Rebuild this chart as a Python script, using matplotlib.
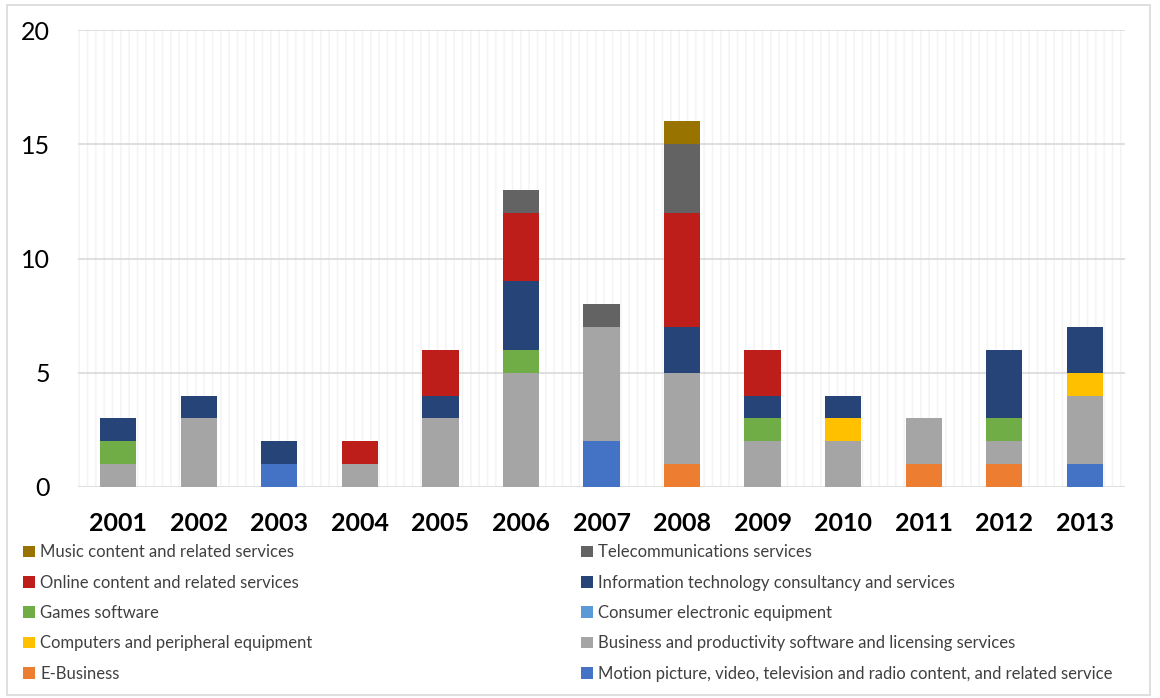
import numpy as np
import matplotlib.pyplot as plt
from matplotlib.patches import Rectangle, Patch

plt.rcParams['font.family'] = ['Lato', 'DejaVu Sans']
plt.rcParams['hatch.linewidth'] = 1.0

years = ['2001', '2002', '2003', '2004', '2005', '2006', '2007',
         '2008', '2009', '2010', '2011', '2012', '2013']

# series, bottom to top
motion    = [0, 0, 1, 0, 0, 0, 2, 0, 0, 0, 0, 0, 1]
ebusiness = [0, 0, 0, 0, 0, 0, 0, 1, 0, 0, 1, 1, 0]
business  = [1, 3, 0, 1, 3, 5, 5, 4, 2, 2, 2, 1, 3]
computers = [0, 0, 0, 0, 0, 0, 0, 0, 0, 1, 0, 0, 1]
consumer  = [0, 0, 0, 0, 0, 0, 0, 0, 0, 0, 0, 0, 0]
games     = [1, 0, 0, 0, 0, 1, 0, 0, 1, 0, 0, 1, 0]
it_cons   = [1, 1, 1, 0, 1, 3, 0, 2, 1, 1, 0, 3, 2]
online    = [0, 0, 0, 1, 2, 3, 0, 5, 2, 0, 0, 0, 0]
telecom   = [0, 0, 0, 0, 0, 1, 1, 3, 0, 0, 0, 0, 0]
music     = [0, 0, 0, 0, 0, 0, 0, 1, 0, 0, 0, 0, 0]

series = [
    ('Motion picture, video, television and radio content, and related service', motion, '#4472C4'),
    ('E-Business', ebusiness, '#ED7D31'),
    ('Business and productivity software and licensing services', business, '#A5A5A5'),
    ('Computers and peripheral equipment', computers, '#FFC000'),
    ('Consumer electronic equipment', consumer, '#5B9BD5'),
    ('Games software', games, '#70AD47'),
    ('Information technology consultancy and services', it_cons, '#264478'),
    ('Online content and related services', online, '#BE1E1A'),
    ('Telecommunications services', telecom, '#636363'),
    ('Music content and related services', music, '#997300'),
]

fig = plt.figure(figsize=(11.6, 6.98), dpi=100)
ax = fig.add_axes([78/1160, 1 - 487/698, (1125 - 78)/1160, (487 - 30)/698])

# striped background of the plot area
ax.add_patch(Rectangle((0, 0), 1, 1, transform=ax.transAxes, facecolor='white',
                       edgecolor='#F3F3F3', hatch='||', lw=0, zorder=0))

x = np.arange(len(years))
bottom = np.zeros(len(years))
colors = {}
for name, vals, col in series:
    vals = np.array(vals, dtype=float)
    ax.bar(x, vals, 0.45, bottom=bottom, color=col, zorder=3)
    bottom += vals
    colors[name] = col

ax.set_xlim(-0.5, 12.5)
ax.set_ylim(0, 20)
ax.set_yticks([0, 5, 10, 15, 20])
ax.yaxis.grid(True, color='#D9D9D9', lw=1.2, zorder=1)
ax.set_axisbelow(True)
for s in ax.spines.values():
    s.set_visible(False)
ax.tick_params(axis='both', length=0)
ax.tick_params(axis='y', labelsize=18, pad=20)
ax.set_xticks(x)
ax.set_xticklabels(years, fontsize=18, fontweight='bold')
ax.tick_params(axis='x', pad=18)

# legend in two columns
left_names = ['Music content and related services', 'Online content and related services',
              'Games software', 'Computers and peripheral equipment', 'E-Business']
right_names = ['Telecommunications services', 'Information technology consultancy and services',
               'Consumer electronic equipment',
               'Business and productivity software and licensing services',
               'Motion picture, video, television and radio content, and related service']
for names, xpos in [(left_names, 20/1160), (right_names, 578/1160)]:
    handles = [Patch(facecolor=colors[n]) for n in names]
    fig.legend(handles, names, loc='upper left', bbox_to_anchor=(xpos, 1 - 541/698),
               frameon=False, fontsize=12, labelcolor='#404040', handlelength=0.7,
               handleheight=0.7, handletextpad=0.3, labelspacing=0.86,
               borderaxespad=0, borderpad=0.2)

# outer frame
fig.add_artist(Rectangle((7/1160, 3/698), 1143/1160, 690/698, transform=fig.transFigure,
                         fill=False, edgecolor='#D9D9D9', lw=1.2))

fig.savefig('out.png', dpi=100)
